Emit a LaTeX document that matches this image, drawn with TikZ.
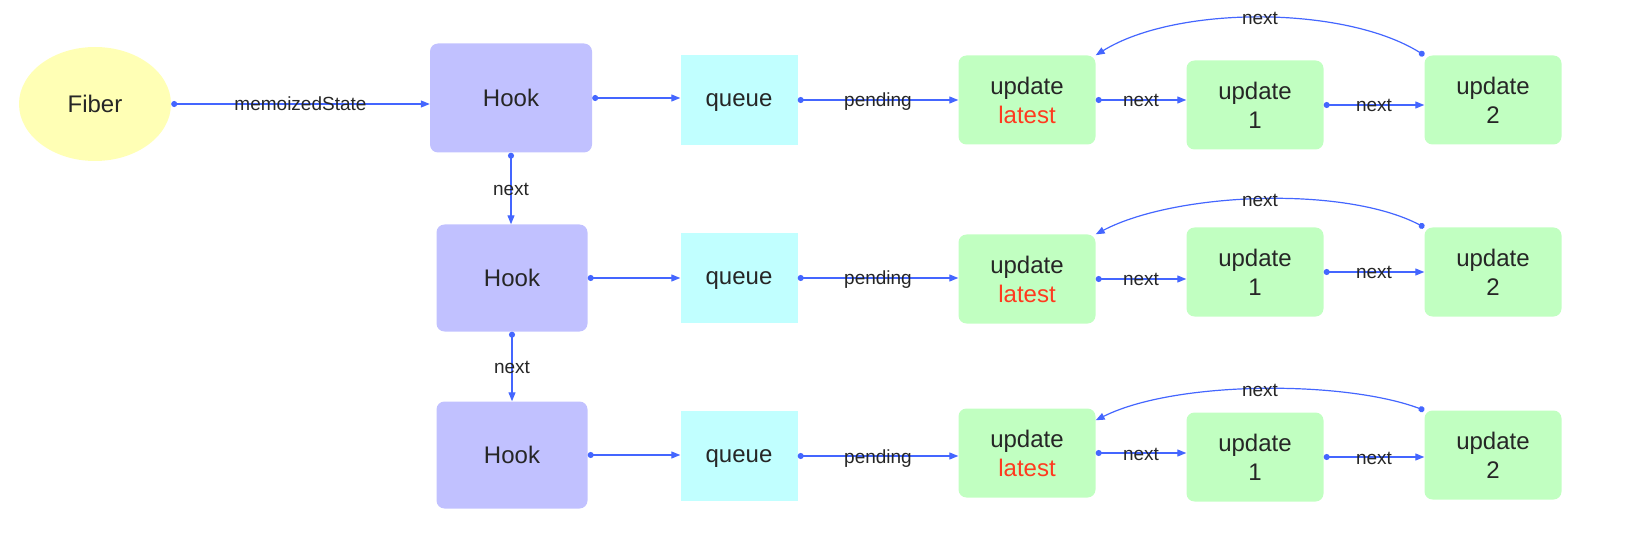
\documentclass[tikz,border=0pt]{standalone}
\usepackage{fontspec}
\setmainfont{Liberation Sans}
\usepackage{tikz}
\usetikzlibrary{arrows.meta, shapes.geometric}

\definecolor{fiberyellow}{HTML}{FFFFB5}
\definecolor{hookblue}{HTML}{C1C1FF}
\definecolor{queuecyan}{HTML}{C1FFFF}
\definecolor{updgreen}{HTML}{C1FFC1}
\definecolor{linkblue}{HTML}{4466FF}
\definecolor{latestred}{HTML}{FF3A1F}

\begin{document}
\begin{tikzpicture}[x=1pt, y=-1pt,
	hookbox/.style={fill=hookblue, rounded corners=8pt, minimum width=151pt, minimum height=107pt, inner sep=0pt, text=black!85, font=\fontsize{24}{29}\selectfont},
	queuebox/.style={fill=queuecyan, minimum width=117pt, minimum height=90pt, inner sep=0pt, text height=13pt, text depth=0pt, text=black!85, font=\fontsize{24}{29}\selectfont},
	updbox/.style={fill=updgreen, rounded corners=8pt, minimum width=137pt, minimum height=89pt, inner sep=0pt, align=center, text=black!85, font=\fontsize{24}{29}\selectfont},
	link/.style={linkblue, line width=1.2pt, {Circle[length=6pt]}-{Triangle[length=9pt, width=7pt]}},
	lbl/.style={text=black!85, inner sep=0pt, text height=14pt, text depth=0pt, font=\fontsize{19}{22}\selectfont}]

	\node[ellipse, fill=fiberyellow, minimum width=152pt, minimum height=114pt, inner sep=0pt, text=black!85, font=\fontsize{24}{29}\selectfont] (fiber) at (95,104) {Fiber};

	\node[hookbox, minimum width=162pt, minimum height=109pt] (hookA) at (511,98) {Hook};
	\node[hookbox] (hookB) at (512,278) {Hook};
	\node[hookbox] (hookC) at (512,455) {Hook};

	\node[queuebox] (queueA) at (739,100) {queue};
	\node[queuebox] (queueB) at (739,278) {queue};
	\node[queuebox] (queueC) at (739,456) {queue};

	\node[updbox] (latestA) at (1027,100) {update\\\textcolor{latestred}{latest}};
	\node[updbox] (oneA) at (1255,105) {update\\1};
	\node[updbox] (twoA) at (1493,100) {update\\2};

	\node[updbox] (latestB) at (1027,279) {update\\\textcolor{latestred}{latest}};
	\node[updbox] (oneB) at (1255,272) {update\\1};
	\node[updbox] (twoB) at (1493,272) {update\\2};

	\node[updbox] (latestC) at (1027,453) {update\\\textcolor{latestred}{latest}};
	\node[updbox] (oneC) at (1255,457) {update\\1};
	\node[updbox] (twoC) at (1493,455) {update\\2};

	% fiber to first hook
	\draw[link] (fiber.east) -- (fiber.east -| hookA.west) node[lbl, midway] {memoizedState};

	% hook list
	\draw[link] (hookA.south) -- (hookA.south |- hookB.north) node[lbl, midway] {next};
	\draw[link] (hookB.south) -- (hookB.south |- hookC.north) node[lbl, midway] {next};

	% row 1
	\draw[link] (hookA.east) -- (hookA.east -| queueA.west);
	\draw[link] (queueA.east) -- (queueA.east -| latestA.west) node[lbl, midway] {pending};
	\draw[link] (latestA.east) -- (latestA.east -| oneA.west) node[lbl, midway] {next};
	\draw[link] (oneA.east) -- (oneA.east -| twoA.west) node[lbl, midway] {next};
	\draw[link] (twoA.north west) .. controls +(-80,-50) and +(80,-50) .. (latestA.north east) node[lbl, pos=0.5] {next};

	% row 2
	\draw[link] (hookB.east) -- (hookB.east -| queueB.west);
	\draw[link] (queueB.east) -- (queueB.east -| latestB.west) node[lbl, midway] {pending};
	\draw[link] (latestB.east) -- (latestB.east -| oneB.west) node[lbl, midway] {next};
	\draw[link] (oneB.east) -- (oneB.east -| twoB.west) node[lbl, midway] {next};
	\draw[link] (twoB.north west) .. controls +(-80,-42) and +(80,-42) .. (latestB.north east) node[lbl, pos=0.5] {next};

	% row 3
	\draw[link] (hookC.east) -- (hookC.east -| queueC.west);
	\draw[link] (queueC.east) -- (queueC.east -| latestC.west) node[lbl, midway] {pending};
	\draw[link] (latestC.east) -- (latestC.east -| oneC.west) node[lbl, midway] {next};
	\draw[link] (oneC.east) -- (oneC.east -| twoC.west) node[lbl, midway] {next};
	\draw[link] (twoC.north west) .. controls +(-80,-30) and +(80,-40) .. ([yshift=-12pt]latestC.north east) node[lbl, pos=0.5] {next};

	\path (0,0) to (1634,540);
\end{tikzpicture}
\end{document}
